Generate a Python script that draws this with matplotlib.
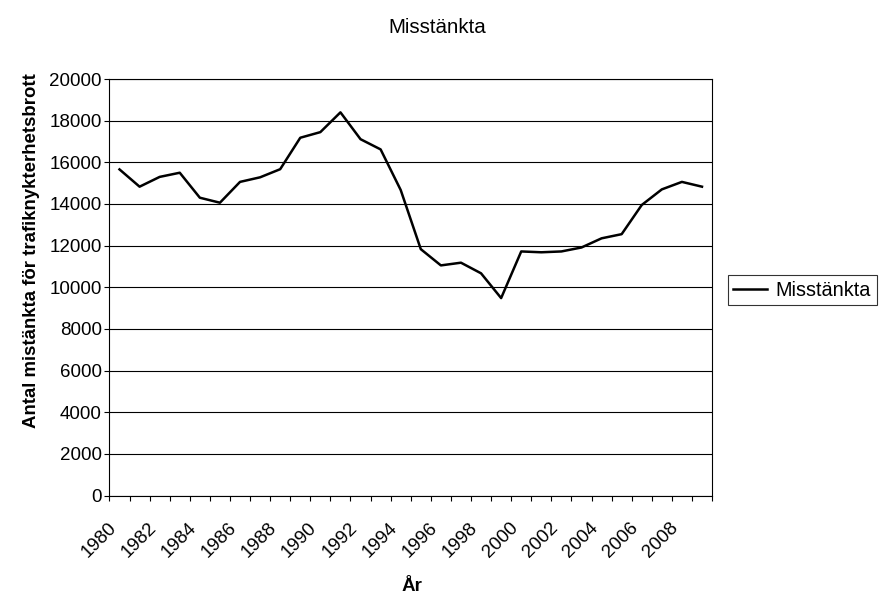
import numpy as np
import matplotlib
matplotlib.use("Agg")
import matplotlib.pyplot as plt
from matplotlib.ticker import FixedLocator, NullFormatter
from matplotlib.transforms import ScaledTranslation

plt.rcParams["font.family"] = ["Liberation Sans", "DejaVu Sans"]

# ===== Data =====
years = list(range(1980, 2010))
suspects = [15660, 14830, 15300, 15500, 14300, 14060, 15060, 15280, 15670, 17180,
            17450, 18400, 17110, 16620, 14670, 11830, 11050, 11180, 10670, 9480,
            11720, 11680, 11720, 11910, 12350, 12550, 13950, 14700, 15060, 14830]
label_years = years[::2]

# ===== Plot =====
fig = plt.figure(figsize=(8.82, 5.95), dpi=100)
ax = fig.add_axes([0.1241, 0.1672, 0.8073 - 0.1241, 0.8672 - 0.1672])

line, = ax.plot(years, suspects, color="black", linewidth=1.8, label="Misstänkta")

ax.set_xlim(years[0] - 0.5, years[-1] + 0.5)
ax.set_ylim(0, 20000)
ax.set_yticks(np.arange(0, 20001, 2000))
ax.grid(axis="y", color="black", linewidth=0.8)
ax.set_axisbelow(True)

# tick marks on the category boundaries, rotated year labels at the centres
ax.xaxis.set_major_locator(FixedLocator(np.arange(years[0] - 0.5, years[-1] + 1, 1)))
ax.xaxis.set_major_formatter(NullFormatter())
ax.tick_params(axis="x", which="major", direction="out", length=3.7, width=0.8, color="black")
ax.tick_params(axis="x", which="minor", length=0, pad=17)
ax.tick_params(axis="y", direction="out", length=3.5, width=0.8, labelsize=13.5, pad=2)
ax.xaxis.set_minor_locator(FixedLocator(label_years))
ax.set_xticklabels([str(y) for y in label_years], minor=True, rotation=45,
                   ha="right", va="top", rotation_mode="anchor", fontsize=13.5)
# nudge the rotated labels a little to the left
shift = ScaledTranslation(-12 / 100, 0, fig.dpi_scale_trans)
for lbl in ax.get_xticklabels(minor=True):
    lbl.set_transform(lbl.get_transform() + shift)

for side in ["left", "right", "top", "bottom"]:
    ax.spines[side].set_color("black")
    ax.spines[side].set_linewidth(0.8)

ax.set_ylabel("Antal mistänkta för trafiknykterhetsbrott", fontsize=13.4,
              fontweight="bold", va="center")
ax.yaxis.set_label_coords(-0.1296, 0.587)
ax.set_xlabel("År", fontsize=13.5, fontweight="bold", va="center")
ax.xaxis.set_label_coords(0.5025, -0.219)
fig.text(0.4955, 0.9546, "Misstänkta", ha="center", va="center", fontsize=14.8)

leg = ax.legend(handles=[line], loc="center left", bbox_to_anchor=(1.0257, 0.4934),
                frameon=True, fancybox=False, fontsize=14.3, handlelength=1.7,
                borderpad=0.3, handletextpad=0.4, borderaxespad=0)
leg.get_frame().set_edgecolor("black")
leg.get_frame().set_linewidth(0.8)

fig.savefig("out.png", dpi=100)
